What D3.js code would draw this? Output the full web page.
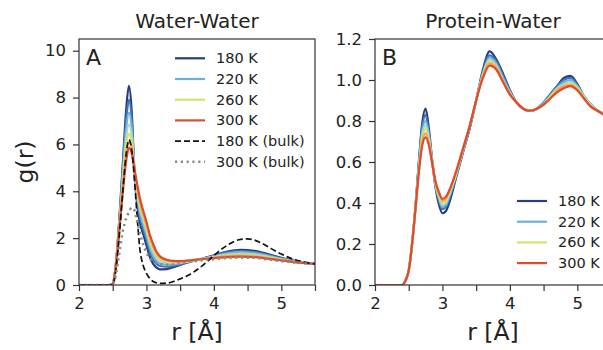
<!DOCTYPE html>
<html><head><meta charset="utf-8">
<script src="https://cdn.jsdelivr.net/npm/d3@7"></script>
<style>
html,body{margin:0;padding:0;background:#fff;}
svg{display:block;font-family:"DejaVu Sans",sans-serif;}
</style></head>
<body>
<svg id="chart" width="603" height="350"></svg>
<script>
// ---------- DATA ----------
const temps = [180, 200, 220, 240, 260, 280, 300];
const tempColors = ["#283d7c", "#3f74b5", "#6cb0dc", "#a9d8c8", "#d6e36a", "#f5a544", "#e04a30"];
const legendTemps = [180, 220, 260, 300];

// Panel A: water-water g(r)
const rA = [2.0, 2.45, 2.5, 2.55, 2.6, 2.65, 2.7, 2.74, 2.78, 2.82, 2.86, 2.9, 2.95, 3.0, 3.05, 3.1, 3.15, 3.2, 3.3, 3.4, 3.5, 3.6, 3.8, 4.0, 4.2, 4.4, 4.6, 4.8, 5.0, 5.2, 5.5];
const gA180 = [0, 0, 0.05, 1.0, 2.9, 5.2, 7.5, 8.5, 7.5, 4.9, 3.5, 2.7, 2.2, 1.7, 1.2, 0.9, 0.74, 0.67, 0.68, 0.76, 0.86, 0.95, 1.1, 1.27, 1.43, 1.5, 1.46, 1.32, 1.16, 1.03, 0.9];
const gA200 = [0, 0, 0.05, 0.95, 2.8, 5.0, 7.05, 7.9, 7.15, 5.0, 3.7, 2.95, 2.4, 1.95, 1.42, 1.08, 0.9, 0.81, 0.78, 0.82, 0.88, 0.96, 1.1, 1.25, 1.39, 1.45, 1.41, 1.29, 1.14, 1.02, 0.9];
const gA220 = [0, 0, 0.05, 0.95, 2.7, 4.8, 6.7, 7.35, 6.8, 5.0, 3.85, 3.1, 2.6, 2.15, 1.6, 1.24, 1.03, 0.92, 0.88, 0.88, 0.92, 0.98, 1.1, 1.23, 1.35, 1.4, 1.36, 1.25, 1.12, 1.01, 0.9];
const gA240 = [0, 0, 0.05, 0.92, 2.6, 4.55, 6.3, 6.85, 6.45, 4.95, 3.95, 3.3, 2.8, 2.3, 1.78, 1.4, 1.17, 1.04, 0.95, 0.93, 0.95, 1.0, 1.1, 1.2, 1.3, 1.34, 1.31, 1.21, 1.1, 1.0, 0.9];
const gA260 = [0, 0, 0.05, 0.92, 2.5, 4.35, 5.95, 6.45, 6.15, 4.95, 4.1, 3.45, 2.95, 2.45, 1.92, 1.54, 1.28, 1.13, 1.01, 0.98, 0.98, 1.01, 1.1, 1.18, 1.26, 1.29, 1.26, 1.18, 1.08, 0.99, 0.9];
const gA280 = [0, 0, 0.05, 0.9, 2.45, 4.15, 5.6, 6.1, 5.9, 4.95, 4.2, 3.6, 3.05, 2.58, 2.05, 1.65, 1.36, 1.18, 1.05, 1.01, 1.0, 1.03, 1.1, 1.16, 1.23, 1.25, 1.22, 1.15, 1.06, 0.98, 0.9];
const gA300 = [0, 0, 0.05, 0.9, 2.4, 4.0, 5.3, 5.85, 5.65, 5.0, 4.35, 3.75, 3.2, 2.7, 2.15, 1.75, 1.42, 1.23, 1.08, 1.03, 1.02, 1.04, 1.1, 1.15, 1.19, 1.21, 1.19, 1.12, 1.05, 0.98, 0.9];

// Bulk water reference curves
const rBulk = [2.0, 2.45, 2.5, 2.55, 2.6, 2.65, 2.7, 2.74, 2.78, 2.82, 2.86, 2.9, 2.95, 3.0, 3.05, 3.1, 3.2, 3.3, 3.4, 3.5, 3.6, 3.7, 3.8, 3.9, 4.0, 4.1, 4.2, 4.3, 4.4, 4.5, 4.6, 4.7, 4.8, 4.9, 5.0, 5.1, 5.2, 5.3, 5.4, 5.5];
const gBulk180 = [0, 0, 0.02, 0.7, 2.2, 4.0, 5.6, 6.2, 5.8, 4.6, 3.0, 1.6, 0.85, 0.5, 0.28, 0.15, 0.07, 0.08, 0.15, 0.26, 0.38, 0.55, 0.76, 1.0, 1.26, 1.5, 1.7, 1.86, 1.95, 1.97, 1.92, 1.8, 1.64, 1.47, 1.32, 1.19, 1.08, 1.0, 0.94, 0.9];
const gBulk300 = [0, 0, 0.05, 0.5, 1.4, 2.3, 2.85, 3.1, 3.3, 3.2, 2.75, 2.25, 1.75, 1.38, 1.15, 1.02, 0.9, 0.86, 0.87, 0.92, 0.97, 1.01, 1.05, 1.08, 1.1, 1.13, 1.15, 1.16, 1.17, 1.17, 1.16, 1.13, 1.09, 1.05, 1.02, 0.99, 0.96, 0.94, 0.92, 0.9];

// Panel B: protein-water g(r)
const rB = [2.0, 2.4, 2.45, 2.5, 2.55, 2.6, 2.65, 2.7, 2.75, 2.8, 2.85, 2.9, 2.95, 3.0, 3.05, 3.1, 3.2, 3.3, 3.4, 3.5, 3.6, 3.7, 3.8, 3.9, 4.0, 4.1, 4.2, 4.3, 4.4, 4.5, 4.6, 4.7, 4.8, 4.9, 5.0, 5.1, 5.2, 5.3, 5.4, 5.5];
const gB180 = [0, 0, 0.02, 0.07, 0.2, 0.38, 0.6, 0.79, 0.86, 0.76, 0.6, 0.47, 0.39, 0.35, 0.36, 0.4, 0.52, 0.64, 0.76, 0.9, 1.05, 1.14, 1.1, 1.03, 0.95, 0.89, 0.86, 0.85, 0.86, 0.89, 0.93, 0.97, 1.01, 1.02, 0.98, 0.92, 0.88, 0.85, 0.835, 0.82];
const gB200 = [0, 0, 0.02, 0.07, 0.2, 0.38, 0.59, 0.77, 0.83, 0.74, 0.6, 0.48, 0.41, 0.37, 0.38, 0.42, 0.53, 0.65, 0.76, 0.9, 1.04, 1.12, 1.09, 1.02, 0.95, 0.89, 0.86, 0.85, 0.86, 0.89, 0.93, 0.97, 1.0, 1.01, 0.975, 0.92, 0.88, 0.85, 0.835, 0.82];
const gB220 = [0, 0, 0.02, 0.07, 0.2, 0.38, 0.58, 0.75, 0.8, 0.73, 0.6, 0.48, 0.42, 0.38, 0.39, 0.43, 0.53, 0.65, 0.77, 0.9, 1.03, 1.11, 1.08, 1.01, 0.94, 0.89, 0.86, 0.85, 0.86, 0.89, 0.92, 0.96, 0.99, 1.0, 0.97, 0.92, 0.88, 0.85, 0.83, 0.82];
const gB240 = [0, 0, 0.02, 0.07, 0.2, 0.37, 0.57, 0.73, 0.78, 0.71, 0.6, 0.49, 0.43, 0.39, 0.4, 0.44, 0.54, 0.65, 0.77, 0.9, 1.03, 1.1, 1.07, 1.0, 0.94, 0.89, 0.86, 0.85, 0.86, 0.88, 0.92, 0.96, 0.98, 0.99, 0.965, 0.92, 0.88, 0.85, 0.83, 0.82];
const gB260 = [0, 0, 0.02, 0.07, 0.2, 0.37, 0.56, 0.71, 0.76, 0.7, 0.59, 0.49, 0.44, 0.4, 0.41, 0.45, 0.54, 0.66, 0.77, 0.9, 1.02, 1.09, 1.06, 0.99, 0.93, 0.89, 0.86, 0.85, 0.86, 0.88, 0.92, 0.95, 0.97, 0.98, 0.96, 0.915, 0.875, 0.85, 0.83, 0.82];
const gB280 = [0, 0, 0.02, 0.07, 0.2, 0.37, 0.55, 0.7, 0.74, 0.69, 0.59, 0.5, 0.45, 0.41, 0.42, 0.46, 0.55, 0.66, 0.77, 0.9, 1.02, 1.08, 1.06, 0.99, 0.93, 0.89, 0.86, 0.85, 0.86, 0.88, 0.91, 0.95, 0.97, 0.975, 0.955, 0.91, 0.87, 0.85, 0.83, 0.82];
const gB300 = [0, 0, 0.02, 0.07, 0.2, 0.37, 0.55, 0.68, 0.72, 0.68, 0.59, 0.5, 0.45, 0.42, 0.43, 0.46, 0.55, 0.66, 0.77, 0.9, 1.01, 1.07, 1.05, 0.99, 0.93, 0.89, 0.86, 0.85, 0.86, 0.88, 0.91, 0.94, 0.96, 0.97, 0.95, 0.91, 0.87, 0.85, 0.83, 0.82];

const xTicks = [2, 2.5, 3, 3.5, 4, 4.5, 5, 5.5];
const yTicksA = [0, 2, 4, 6, 8, 10];
const yTicksB = [0, 0.2, 0.4, 0.6, 0.8, 1.0, 1.2];

const seriesA = [gA180, gA200, gA220, gA240, gA260, gA280, gA300];
const seriesB = [gB180, gB200, gB220, gB240, gB260, gB280, gB300];

// ---------- DRAW ----------
const svg = d3.select("#chart");
const plotTop = 39, plotBottom = 285, plotW = 236;

function panel(opts) {
  const x = d3.scaleLinear().domain([2, 5.5]).range([opts.left, opts.left + plotW]);
  const y = d3.scaleLinear().domain(opts.ydom).range([plotBottom, plotTop]);
  const g = svg.append("g");
  const clipId = "clip" + opts.id;
  svg.append("clipPath").attr("id", clipId).append("rect")
    .attr("x", opts.left).attr("y", plotTop).attr("width", plotW).attr("height", plotBottom - plotTop);
  const plot = g.append("g").attr("clip-path", `url(#${clipId})`);
  const line = (rs) => d3.line().x((d, i) => x(rs[i])).y(d => y(d)).curve(d3.curveMonotoneX);

  opts.series.forEach((s, i) => {
    plot.append("path").attr("d", line(opts.r)(s))
      .attr("fill", "none").attr("stroke", tempColors[i]).attr("stroke-width", 2.2)
      .attr("stroke-linejoin", "round");
  });
  (opts.extra || []).forEach(e => {
    plot.append("path").attr("d", line(e.r)(e.g))
      .attr("fill", "none").attr("stroke", e.color).attr("stroke-width", e.width)
      .attr("stroke-dasharray", e.dash);
  });

  // axes
  const ax = g.append("g").attr("transform", `translate(0,${plotBottom})`)
    .call(d3.axisBottom(x).tickValues(xTicks).tickSize(6).tickPadding(6)
      .tickFormat(d => Number.isInteger(d) ? d3.format("d")(d) : ""));
  const ay = g.append("g").attr("transform", `translate(${opts.left},0)`)
    .call(d3.axisLeft(y).tickValues(opts.yticks).tickSize(6).tickPadding(7).tickFormat(opts.yfmt));
  [ax, ay].forEach(a => {
    a.select(".domain").remove();
    a.selectAll("line").attr("stroke", "#333").attr("stroke-width", 1.2);
    a.selectAll("text").attr("font-size", 16.5).attr("fill", "#222").attr("font-family", "DejaVu Sans");
  });

  // frame
  g.append("rect").attr("x", opts.left).attr("y", plotTop).attr("width", plotW).attr("height", plotBottom - plotTop)
    .attr("fill", "none").attr("stroke", "#333").attr("stroke-width", 1.2);

  // title, panel letter, x label
  g.append("text").attr("x", opts.left + plotW / 2).attr("y", 28).attr("text-anchor", "middle")
    .attr("font-size", 20).attr("fill", "#222").text(opts.title);
  g.append("text").attr("x", opts.left + 7).attr("y", 65).attr("font-size", 22).attr("fill", "#222").text(opts.letter);
  g.append("text").attr("x", opts.left + plotW / 2).attr("y", 340).attr("text-anchor", "middle")
    .attr("font-size", 23.5).attr("fill", "#222").text("r [Å]");

  // legend
  const lg = g.append("g");
  opts.legend.forEach((it, i) => {
    const yy = opts.legY + i * 20.7;
    lg.append("line").attr("x1", opts.legX).attr("x2", opts.legX + 30).attr("y1", yy).attr("y2", yy)
      .attr("stroke", it.color).attr("stroke-width", it.width).attr("stroke-dasharray", it.dash || null);
    lg.append("text").attr("x", opts.legX + 41).attr("y", yy).attr("dy", "0.35em")
      .attr("font-size", 14.5).attr("fill", "#222").text(it.label);
  });
}

const legendTempItems = legendTemps.map(t => ({
  label: t + " K", color: tempColors[temps.indexOf(t)], width: 2.2
}));

panel({
  id: "A", left: 79, ydom: [0, 10.5], yticks: yTicksA, yfmt: d3.format("d"),
  r: rA, series: seriesA, title: "Water-Water", letter: "A",
  extra: [
    { r: rBulk, g: gBulk180, color: "#111", width: 1.7, dash: "6,3" },
    { r: rBulk, g: gBulk300, color: "#8a8a8a", width: 2.6, dash: "2.2,3.6" }
  ],
  legX: 175, legY: 58.3,
  legend: legendTempItems.concat([
    { label: "180 K (bulk)", color: "#111", width: 1.7, dash: "6,3" },
    { label: "300 K (bulk)", color: "#8a8a8a", width: 2.6, dash: "2.2,3.6" }
  ])
});

panel({
  id: "B", left: 375, ydom: [0, 1.2], yticks: yTicksB, yfmt: d3.format(".1f"),
  r: rB, series: seriesB, title: "Protein-Water", letter: "B",
  legX: 517, legY: 201,
  legend: legendTempItems
});

// y label for panel A
svg.append("text").attr("transform", "translate(33,162) rotate(-90)")
  .attr("text-anchor", "middle").attr("font-size", 23.5).attr("fill", "#222").text("g(r)");
</script>
</body></html>
